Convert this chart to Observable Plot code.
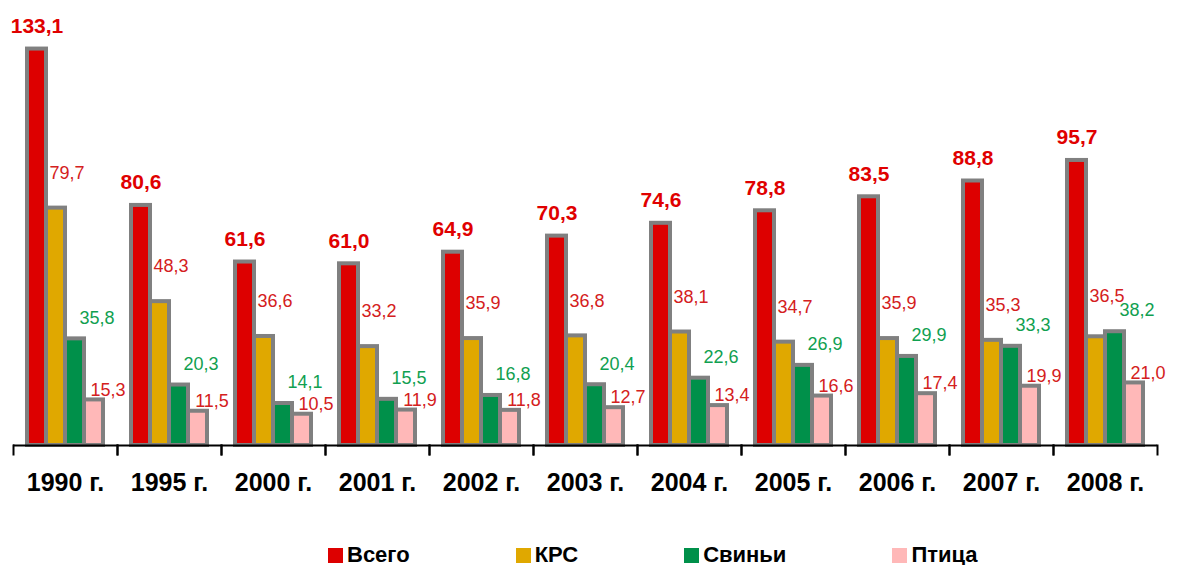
<!DOCTYPE html>
<html><head><meta charset="utf-8">
<script src="https://cdn.jsdelivr.net/npm/d3@7"></script>
<script src="https://cdn.jsdelivr.net/npm/@observablehq/plot@0.6"></script>
<style>
body{margin:0;background:#fff;font-family:"Liberation Sans",Arial,sans-serif;}
#legend{display:flex;padding-left:328px;padding-top:24px;height:22px;gap:106px;}
.item{display:flex;align-items:center;font-weight:bold;font-size:22px;line-height:22px;height:22px;color:#000;}
.sw{width:15px;height:15px;margin-right:4px;}
</style></head><body><div id="chart"></div><div id="legend"></div>
<script>
const years = ["1990 г.","1995 г.","2000 г.","2001 г.","2002 г.","2003 г.","2004 г.","2005 г.","2006 г.","2007 г.","2008 г."];
const series = ["Всего","КРС","Свиньи","Птица"];
const vsego  = [133.1, 80.6, 61.6, 61.0, 64.9, 70.3, 74.6, 78.8, 83.5, 88.8, 95.7];
const krs    = [79.7, 48.3, 36.6, 33.2, 35.9, 36.8, 38.1, 34.7, 35.9, 35.3, 36.5];
const svini  = [35.8, 20.3, 14.1, 15.5, 16.8, 20.4, 22.6, 26.9, 29.9, 33.3, 38.2];
const ptitsa = [15.3, 11.5, 10.5, 11.9, 11.8, 12.7, 13.4, 16.6, 17.4, 19.9, 21.0];
const colors = ["#dd0000","#e0a800","#00904a","#ffb8b8"];

const values = [vsego, krs, svini, ptitsa];
const data = years.flatMap((y, i) => series.map((s, j) => ({year: y, series: s, value: values[j][i], i})));
const fmt = v => d3.format(".1f")(v).replace(".", ",");
const of = s => data.filter(d => d.series === s);

const chart = Plot.plot({
  width: 1187, height: 520,
  marginTop: 28, marginBottom: 75, marginLeft: 12, marginRight: 30,
  style: {fontFamily: "Liberation Sans, Arial, sans-serif", background: "white", overflow: "visible"},
  fx: {domain: years, padding: 0, label: null},
  x: {domain: series, paddingInner: 0, paddingOuter: 0.7, axis: null},
  y: {domain: [0, 140], axis: null},
  color: {domain: series, range: colors},
  marks: [
    Plot.barY(data, {fx: "year", x: "series", y: "value", fill: "series", stroke: "#808080", strokeWidth: 4}),
    Plot.ruleY([0], {stroke: "black", strokeWidth: 2}),
    Plot.frame({anchor: "left", insetTop: 417, insetBottom: -9, stroke: "black", strokeWidth: 2}),
    Plot.frame({anchor: "right", insetTop: 417, insetBottom: -9, stroke: "black", strokeWidth: 2}),
    Plot.axisFx({anchor: "bottom", tickSize: 0, tickPadding: 28, fontSize: 25, fontWeight: "bold", fill: "black", label: null}),
    Plot.text(of("Всего"), {fx: "year", x: "series", y: "value", text: d => fmt(d.value), dy: -23, fill: "#e00000", fontSize: 21, fontWeight: "bold"}),
    Plot.text(of("КРС"), {fx: "year", x: "series", y: d => Math.max(d.value, svini[d.i]), text: d => fmt(d.value), dx: 11, dy: -35, fill: "#d42020", fontSize: 18, letterSpacing: 1}),
    Plot.text(of("Свиньи"), {fx: "year", x: "series", y: "value", text: d => fmt(d.value), dx: 22, dy: -21, fill: "#10a050", fontSize: 18, letterSpacing: 1}),
    Plot.text(of("Птица"), {fx: "year", x: "series", y: "value", text: d => fmt(d.value), dx: 14, dy: -10, fill: "#d42020", fontSize: 18, letterSpacing: 1})
  ]
});
document.getElementById("chart").appendChild(chart);

const legend = document.getElementById("legend");
series.forEach((s, i) => {
  const it = document.createElement("div");
  it.className = "item";
  it.innerHTML = `<span class="sw" style="background:${colors[i]}"></span><span>${s}</span>`;
  legend.appendChild(it);
});
</script></body></html>
